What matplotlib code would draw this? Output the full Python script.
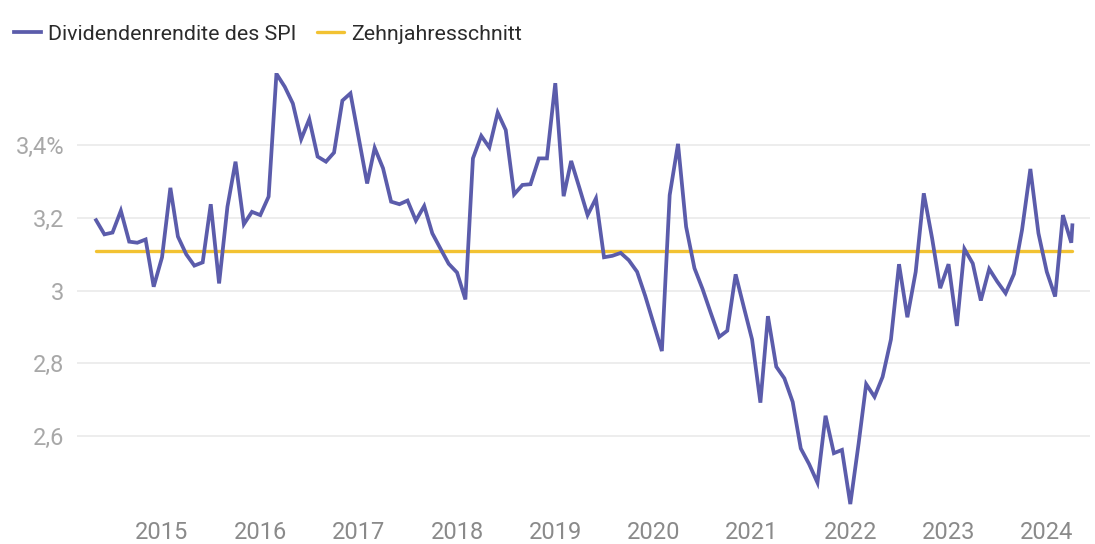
"""Dividend yield of the SPI vs. its ten-year average."""

import matplotlib.pyplot as plt
import matplotlib.dates as mdates
import pandas as pd

plt.rcParams["font.family"] = ["Roboto", "DejaVu Sans"]

# monthly dividend yield in %, May 2014 - April 2024, plus latest reading
months = pd.date_range("2014-05-01", "2024-04-01", freq="MS")
latest_date = pd.Timestamp("2024-04-05")
yield_monthly = [
    3.194, 3.155, 3.160, 3.220, 3.135, 3.132, 3.141, 3.011, 3.092, 3.283,
    3.149, 3.100, 3.069, 3.078, 3.238, 3.020, 3.231, 3.355, 3.183, 3.217,
    3.208, 3.259, 3.597, 3.561, 3.515, 3.417, 3.472, 3.369, 3.355, 3.380,
    3.523, 3.543, 3.419, 3.295, 3.393, 3.337, 3.245, 3.238, 3.248, 3.193,
    3.233, 3.158, 3.115, 3.074, 3.050, 2.976, 3.364, 3.426, 3.394, 3.490,
    3.442, 3.265, 3.291, 3.293, 3.364, 3.364, 3.571, 3.260, 3.357, 3.282,
    3.208, 3.254, 3.092, 3.096, 3.104, 3.084, 3.052, 2.986, 2.910, 2.834,
    3.263, 3.404, 3.176, 3.062, 3.005, 2.938, 2.873, 2.890, 3.045, 2.956,
    2.866, 2.692, 2.930, 2.791, 2.759, 2.694, 2.566, 2.523, 2.472, 2.656,
    2.553, 2.562, 2.413, 2.580, 2.743, 2.708, 2.763, 2.866, 3.073, 2.927,
    3.052, 3.268, 3.144, 3.007, 3.073, 2.903, 3.115, 3.075, 2.973, 3.060,
    3.025, 2.993, 3.046, 3.167, 3.335, 3.158, 3.052, 2.984, 3.208, 3.132,
]
latest_yield = 3.18
ten_year_avg = 3.11

y_ticks = [2.6, 2.8, 3.0, 3.2, 3.4]
y_labels = ["2,6", "2,8", "3", "3,2", "3,4%"]
x_years = list(range(2015, 2025))

dates = list(months) + [latest_date]
values = yield_monthly + [latest_yield]

fig = plt.figure(figsize=(10.95, 5.44), dpi=100)
ax = fig.add_axes([0.0703, 0.0647, 0.925, 0.8018])

ax.plot(dates, values, color="#5b5cab", lw=2.7, solid_joinstyle="miter",
        label="Dividendenrendite des SPI", zorder=3)
ax.plot([dates[0], dates[-1]], [ten_year_avg, ten_year_avg], color="#f2c232",
        lw=2.4, solid_capstyle="round", label="Zehnjahresschnitt", zorder=2)

ax.set_ylim(2.4, 3.6)
ax.set_xlim(pd.Timestamp("2014-02-19"), pd.Timestamp("2024-06-09"))
ax.set_yticks(y_ticks)
ax.set_yticklabels(y_labels)
ax.set_xticks([pd.Timestamp(f"{y}-01-01") for y in x_years])
ax.xaxis.set_major_formatter(mdates.DateFormatter("%Y"))

ax.grid(axis="y", color="#e8e8e8", lw=1.1)
ax.grid(axis="x", visible=False)
for s in ax.spines.values():
    s.set_visible(False)
ax.tick_params(axis="y", length=0, pad=9, labelsize=17, labelcolor="#a8a8a8")
ax.tick_params(axis="x", length=0, pad=9, labelsize=17, labelcolor="#8a8a8a")

fig.legend(loc="upper left", bbox_to_anchor=(-0.0045, 0.99), ncol=2, frameon=False,
           fontsize=15.4, handlelength=1.25, handletextpad=0.34, columnspacing=0.95,
           labelcolor="#2b2b2b")

fig.savefig("out.png", dpi=100, facecolor="white")
